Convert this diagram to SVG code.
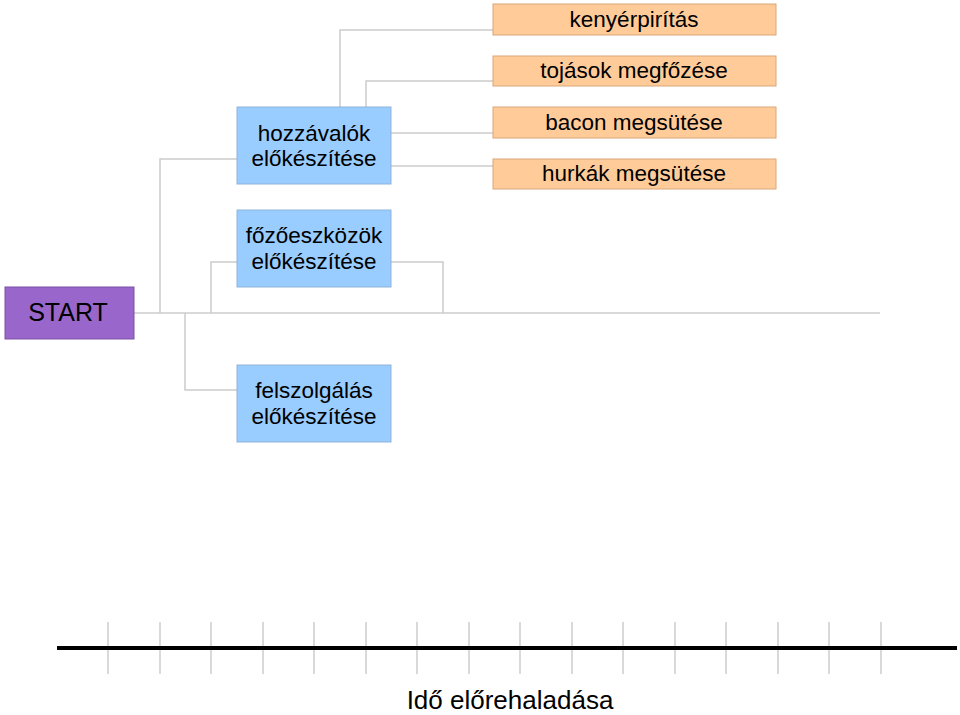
<svg xmlns="http://www.w3.org/2000/svg" width="960" height="715" viewBox="0 0 960 715">
<style>
text{font-family:"Liberation Sans",Arial,sans-serif;fill:#000;text-anchor:middle}
.c{fill:none;stroke:#cccccc;stroke-width:1.5}
.blue{fill:#99ccff;stroke:#8fb3d9;stroke-width:1}
.orange{fill:#ffcc99;stroke:#d9a679;stroke-width:1}
.purple{fill:#9966cc;stroke:#7a52a3;stroke-width:1}
.t22{font-size:22.5px}
.tick{stroke:#cccccc;stroke-width:1.5}
</style>
<rect width="960" height="715" fill="#fff"/>
<g id="connectors">
<path class="c" d="M134 313H880"/>
<path class="c" d="M160 313V159H237"/>
<path class="c" d="M185 313V390H237"/>
<path class="c" d="M211 313V262H237"/>
<path class="c" d="M391 262H443V313"/>
<path class="c" d="M340 107V30H493"/>
<path class="c" d="M366 107V81H493"/>
<path class="c" d="M391 133H493"/>
<path class="c" d="M391 166H493"/>
</g>
<g id="start">
<rect class="purple" x="5" y="287" width="129" height="52"/>
<text x="68" y="321" font-size="25">START</text>
</g>
<g id="hozzavalok">
<rect class="blue" x="237" y="107" width="154" height="77"/>
<text class="t22" x="314" y="141">hozzávalók</text>
<text class="t22" x="314" y="166">előkészítése</text>
</g>
<g id="fozoeszkozok">
<rect class="blue" x="237" y="210" width="154" height="77"/>
<text class="t22" x="314" y="243">főzőeszközök</text>
<text class="t22" x="314" y="269">előkészítése</text>
</g>
<g id="felszolgalas">
<rect class="blue" x="237" y="365" width="154" height="77"/>
<text class="t22" x="314" y="398">felszolgálás</text>
<text class="t22" x="314" y="424">előkészítése</text>
</g>
<g id="kenyerpiritas">
<rect class="orange" x="493" y="4" width="283" height="31"/>
<text class="t22" x="634" y="27">kenyérpirítás</text>
</g>
<g id="tojasok">
<rect class="orange" x="493" y="56" width="283" height="30"/>
<text class="t22" x="634" y="78">tojások megfőzése</text>
</g>
<g id="bacon">
<rect class="orange" x="493" y="107" width="283" height="31"/>
<text class="t22" x="634" y="130">bacon megsütése</text>
</g>
<g id="hurkak">
<rect class="orange" x="493" y="159" width="283" height="30"/>
<text class="t22" x="634" y="181">hurkák megsütése</text>
</g>
<g id="axis">
<g class="tick">
<line x1="108" y1="622" x2="108" y2="674"/>
<line x1="160" y1="622" x2="160" y2="674"/>
<line x1="211" y1="622" x2="211" y2="674"/>
<line x1="263" y1="622" x2="263" y2="674"/>
<line x1="314" y1="622" x2="314" y2="674"/>
<line x1="366" y1="622" x2="366" y2="674"/>
<line x1="417" y1="622" x2="417" y2="674"/>
<line x1="469" y1="622" x2="469" y2="674"/>
<line x1="520" y1="622" x2="520" y2="674"/>
<line x1="572" y1="622" x2="572" y2="674"/>
<line x1="623" y1="622" x2="623" y2="674"/>
<line x1="675" y1="622" x2="675" y2="674"/>
<line x1="726" y1="622" x2="726" y2="674"/>
<line x1="778" y1="622" x2="778" y2="674"/>
<line x1="829" y1="622" x2="829" y2="674"/>
<line x1="881" y1="622" x2="881" y2="674"/>
</g>
<line x1="57" y1="648" x2="957" y2="648" stroke="#000" stroke-width="4"/>
<text x="510" y="709" font-size="26">Idő előrehaladása</text>
</g>
</svg>
